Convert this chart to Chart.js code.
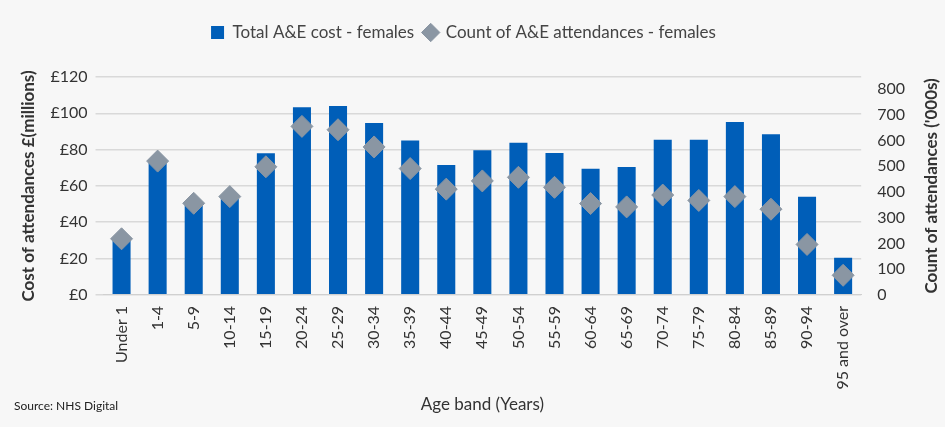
<!DOCTYPE html>
<html><head><meta charset="utf-8">
<script src="https://cdn.jsdelivr.net/npm/chart.js@4/dist/chart.umd.min.js"></script>
<style>
html,body{margin:0;padding:0;background:#f7f7f7;}
#wrap{position:relative;width:945px;height:427px;}
#src{position:absolute;left:14px;top:398px;font-family:Lato,"Liberation Sans",sans-serif;font-size:12px;color:#222;}
</style></head><body>
<div id="wrap"><canvas id="c" width="945" height="427"></canvas><div id="src">Source: NHS Digital</div></div>
<script>
const categories=["Under 1","1-4","5-9","10-14","15-19","20-24","25-29","30-34","35-39","40-44","45-49","50-54","55-59","60-64","65-69","70-74","75-79","80-84","85-89","90-94","95 and over"];
const costMillions=[31,74,51,53,78,103.4,104,94.7,85,71.5,79.7,83.8,78.2,69.4,70.4,85.4,85.4,95.2,88.5,54,20.4];
const attendancesThousands=[218,520,356,382,498,655,642,575,491,411,443,457,418,355,342,388,367,382,333,196,76];
const font="Lato, 'Liberation Sans', sans-serif";
const rightTitle={id:'rightTitle',afterDraw(ch){const c=ch.ctx,a=ch.chartArea;c.save();c.translate(932,(a.top+a.bottom)/2);c.rotate(-Math.PI/2);c.textAlign='center';c.textBaseline='middle';c.font="bold 17px "+font;c.fillStyle='#333';c.fillText("Count of attendances ('000s)",0,0);c.restore();}};
const legendGap={id:'legendGap',beforeInit(ch){const f=ch.legend.fit;ch.legend.fit=function(){f.bind(ch.legend)();this.height+=26;};}};
new Chart(document.getElementById('c'),{
 plugins:[rightTitle,legendGap],
 data:{labels:categories,datasets:[
  {type:'scatter',label:'Count of A&E attendances - females',data:attendancesThousands,yAxisID:'y1',pointStyle:'rectRot',pointRadius:11,pointHoverRadius:11,backgroundColor:'#8a96a3',borderColor:'#8a96a3',order:0},
  {type:'bar',label:'Total A&E cost - females',data:costMillions,yAxisID:'y',backgroundColor:'#005eb8',pointStyle:'rect',barPercentage:0.5,categoryPercentage:1,order:1}
 ]},
 options:{responsive:false,animation:false,
  layout:{padding:{left:14,right:32,top:14,bottom:8}},
  plugins:{legend:{reverse:true,labels:{font:{family:font,size:17},color:'#444',boxWidth:13,boxHeight:13,usePointStyle:true,padding:10}},tooltip:{enabled:false}},
  scales:{
   x:{type:'category',grid:{display:false},border:{color:'#d0d0d0'},ticks:{font:{family:font,size:16},color:'#333',maxRotation:90,minRotation:90,autoSkip:false},
      title:{display:true,text:'Age band (Years)',font:{family:font,size:17},color:'#333',padding:{top:2}}},
   y:{position:'left',min:0,max:120,ticks:{stepSize:20,callback:v=>'£'+v,font:{family:font,size:16},color:'#333',padding:8},grid:{color:'#d9d9d9',lineWidth:1.5},border:{display:false},
      title:{display:true,text:'Cost of attendances £(millions)',font:{family:font,size:17,weight:'bold'},color:'#333'}},
   y1:{position:'right',min:0,max:847,grid:{display:false},border:{display:false},
      afterBuildTicks:a=>{a.ticks=[0,100,200,300,400,500,600,700,800].map(v=>({value:v}));},
      ticks:{font:{family:font,size:16},color:'#333',padding:8}}
  }}
});
</script></body></html>
